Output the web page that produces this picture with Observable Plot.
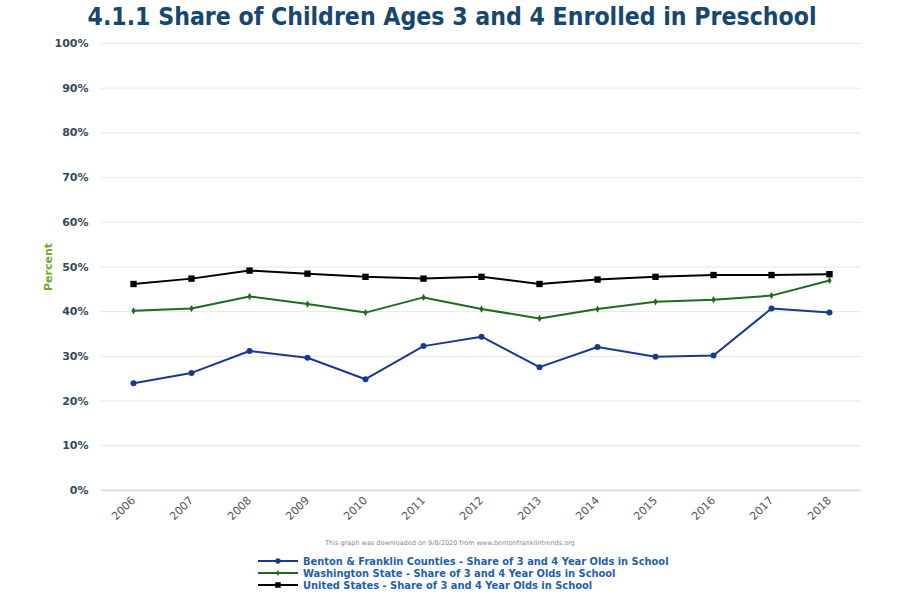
<!DOCTYPE html>
<html><head><meta charset="utf-8">
<script src="https://cdn.jsdelivr.net/npm/d3@7"></script>
<script src="https://cdn.jsdelivr.net/npm/@observablehq/plot@0.6"></script>
<style>
body{margin:0;background:#fff;width:900px;height:600px;overflow:hidden;font-family:"DejaVu Sans",Verdana,sans-serif;position:relative;}
#title{position:absolute;left:0;top:0;width:900px;text-align:center;font-family:"DejaVu Sans Condensed","DejaVu Sans",sans-serif;font-weight:bold;font-size:24.6px;color:#17466e;line-height:34px;padding-left:2px;}
#chart{position:absolute;left:0;top:30px;}
#caption{position:absolute;left:0;top:539px;width:900px;text-align:center;font-size:6.5px;color:#888;}
#legend{position:absolute;left:258px;top:555px;}
.row{display:flex;align-items:center;height:12px;font-family:"DejaVu Sans",sans-serif;font-weight:bold;font-size:9.9px;color:#1f5fa8;white-space:nowrap;}
.row svg{margin-right:5px;}
</style></head><body>
<div id="title">4.1.1 Share of Children Ages 3 and 4 Enrolled in Preschool</div>
<div id="chart"></div>
<div id="caption">This graph was downloaded on 9/8/2020 from www.bentonfranklintrends.org</div>
<div id="legend"></div>
<script>
const years = ["2006","2007","2008","2009","2010","2011","2012","2013","2014","2015","2016","2017","2018"];
const benton = [24.0,26.3,31.2,29.7,24.9,32.3,34.4,27.6,32.1,29.9,30.2,40.7,39.8];
const washington = [40.2,40.7,43.4,41.7,39.8,43.2,40.6,38.5,40.6,42.2,42.7,43.6,47.0];
const unitedStates = [46.2,47.4,49.2,48.5,47.8,47.4,47.8,46.2,47.2,47.8,48.2,48.2,48.4];
const seriesNames = [
  "Benton & Franklin Counties - Share of 3 and 4 Year Olds in School",
  "Washington State - Share of 3 and 4 Year Olds in School",
  "United States - Share of 3 and 4 Year Olds in School"
];
const seriesColors = ["#173a8f", "#1e6b1e", "#000000"];
const seriesSymbols = ["circle", "diamond", "square"];
const seriesRadius = [3, 2.2, 3.6];
const yTicks = [0,10,20,30,40,50,60,70,80,90,100];

const seriesValues = [benton, washington, unitedStates];
const rows = [];
seriesNames.forEach((s, i) => years.forEach((y, j) => rows.push({series: s, year: y, value: seriesValues[i][j]})));

const chart = Plot.plot({
  width: 900, height: 510,
  marginTop: 13, marginLeft: 101, marginRight: 39, marginBottom: 50,
  style: {fontFamily: "DejaVu Sans, sans-serif", background: "white", overflow: "visible"},
  x: {type: "point", domain: years, padding: 0.5},
  y: {domain: [0, 100]},
  color: {domain: seriesNames, range: seriesColors},
  marks: [
    Plot.gridY(yTicks, {stroke: "#e6e6e6", strokeOpacity: 1}),
    Plot.axisY(yTicks, {tickSize: 0, tickPadding: 13, tickFormat: d => d + "%", fontWeight: "bold", fontSize: 11, fill: "#34495e", label: "Percent", labelAnchor: "center", labelOffset: 57}),
    Plot.axisX({tickSize: 0, tickRotate: -45, tickPadding: 8, fontSize: 11, fill: "#555", label: null}),
    Plot.ruleY([0], {stroke: "#d9dfef", strokeWidth: 2}),
    Plot.line(rows, {x: "year", y: "value", z: "series", stroke: "series", strokeWidth: 2}),
    ...seriesNames.map((s, i) => Plot.dot(rows.filter(r => r.series === s), {x: "year", y: "value", fill: seriesColors[i], symbol: seriesSymbols[i], r: seriesRadius[i]}))
  ]
});
document.getElementById("chart").appendChild(chart);
const lab = chart.querySelector('[aria-label="y-axis label"]');
if (lab) {
  lab.setAttribute("fill", "#6aad2e");
  lab.querySelectorAll("text").forEach(t => { t.setAttribute("fill", "#6aad2e"); t.textContent = "Percent"; });
}

const legend = document.getElementById("legend");
seriesNames.forEach((s, i) => {
  const row = document.createElement("div");
  row.className = "row";
  const sym = d3.symbol(i === 0 ? d3.symbolCircle : i === 1 ? d3.symbolDiamond : d3.symbolSquare, i === 0 ? 22 : i === 1 ? 10 : 30)();
  row.innerHTML = `<svg width="40" height="12"><line x1="0" x2="40" y1="6" y2="6" stroke="${seriesColors[i]}" stroke-width="2"/><path d="${sym}" transform="translate(20,6)" fill="${seriesColors[i]}"/></svg><span>${s.replace("&", "&amp;")}</span>`;
  legend.appendChild(row);
});
</script>
</body></html>
